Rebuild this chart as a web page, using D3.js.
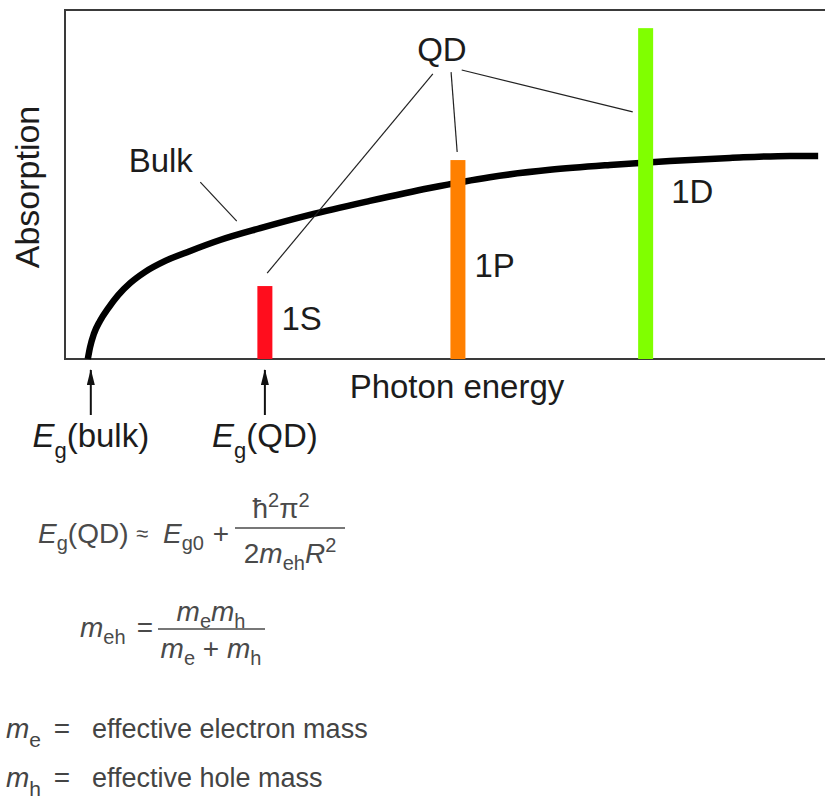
<!DOCTYPE html>
<html>
<head>
<meta charset="utf-8">
<script src="https://cdn.jsdelivr.net/npm/d3@7"></script>
<style>
  body { margin: 0; background: #fff; }
  svg { display: block; }
  text { font-family: "Liberation Sans", Arial, sans-serif; }
</style>
</head>
<body>
<svg id="chart" width="825" height="800"></svg>
<script>
// bulk absorption curve (arbitrary units)
let bulkEnergy = [0.30, 0.33, 0.38, 0.46, 0.57, 0.70, 0.86, 1.05, 1.32, 1.64, 2.04, 2.57, 3.22, 4.01, 4.80, 5.59, 6.38, 7.17, 7.96, 8.75, 9.54, 9.91];
let bulkAbs    = [0.00, 0.34, 0.72, 1.09, 1.46, 1.83, 2.18, 2.49, 2.81, 3.09, 3.41, 3.75, 4.13, 4.53, 4.90, 5.21, 5.42, 5.56, 5.67, 5.76, 5.82, 5.82];

// quantum dot transitions
let qdLabels = ['1S', '1P', '1D'];
let qdEnergy = [2.63, 5.17, 7.64];
let qdAbs    = [2.09, 5.70, 9.48];
let qdColors = ['#ff0d1d', '#ff8000', '#80ff00'];

let svg = d3.select('#chart');
let ink = '#1c1c1c';

// plot frame: 65..825 wide, 10..359 high
let x = d3.scaleLinear().domain([0, 10]).range([65, 825]);
let y = d3.scaleLinear().domain([0, 10]).range([359, 10]);

svg.append('rect')
  .attr('x', x(0)).attr('y', y(10))
  .attr('width', x(10) - x(0) + 10).attr('height', y(0) - y(10))
  .attr('fill', 'none')
  .attr('stroke', '#3a3a3a')
  .attr('stroke-width', 2);

// bulk curve
let line = d3.line()
  .x(i => x(bulkEnergy[i]))
  .y(i => y(bulkAbs[i]))
  .curve(d3.curveMonotoneX);

svg.append('path')
  .attr('d', line(d3.range(bulkEnergy.length)))
  .attr('fill', 'none')
  .attr('stroke', '#000')
  .attr('stroke-width', 6.5);

// QD bars
let barW = 15;
svg.selectAll('.bar')
  .data(qdLabels)
  .enter().append('rect')
  .attr('class', 'bar')
  .attr('x', (d, i) => x(qdEnergy[i]) - barW / 2)
  .attr('y', (d, i) => y(qdAbs[i]))
  .attr('width', barW)
  .attr('height', (d, i) => y(0) - y(qdAbs[i]))
  .attr('fill', (d, i) => qdColors[i]);

// bar labels (offset right of bar, height in data units)
let labelDx = [9, 9, 18];
let labelY = [0.83, 2.35, 4.47];
svg.selectAll('.blabel')
  .data(qdLabels)
  .enter().append('text')
  .attr('class', 'blabel')
  .attr('x', (d, i) => x(qdEnergy[i]) + barW / 2 + labelDx[i])
  .attr('y', (d, i) => y(labelY[i]))
  .attr('font-size', 33)
  .attr('fill', ink)
  .text(d => d);

// QD / Bulk callouts
svg.append('text')
  .attr('x', x(4.96)).attr('y', y(8.54))
  .attr('text-anchor', 'middle')
  .attr('font-size', 33).attr('fill', ink)
  .text('QD');

let leaders = [
  [[4.84, 8.17], [2.66, 2.46]],
  [[5.08, 8.22], [5.16, 5.93]],
  [[5.22, 8.28], [7.47, 7.08]],
  [[1.78, 5.07], [2.26, 3.95]]
];
svg.selectAll('.leader')
  .data(leaders)
  .enter().append('line')
  .attr('class', 'leader')
  .attr('x1', d => x(d[0][0])).attr('y1', d => y(d[0][1]))
  .attr('x2', d => x(d[1][0])).attr('y2', d => y(d[1][1]))
  .attr('stroke', '#222')
  .attr('stroke-width', 1.2);

svg.append('text')
  .attr('x', x(1.26)).attr('y', y(5.36))
  .attr('text-anchor', 'middle')
  .attr('font-size', 33).attr('fill', ink)
  .text('Bulk');

// axis titles
svg.append('text')
  .attr('transform', 'translate(39,187) rotate(-90)')
  .attr('text-anchor', 'middle')
  .attr('font-size', 34).attr('fill', ink)
  .text('Absorption');

svg.append('text')
  .attr('x', 457).attr('y', 398)
  .attr('text-anchor', 'middle')
  .attr('font-size', 33).attr('fill', ink)
  .text('Photon energy');

// band gap arrows
svg.append('defs').append('marker')
  .attr('id', 'head')
  .attr('viewBox', '0 0 16 8')
  .attr('refX', 15).attr('refY', 4)
  .attr('markerWidth', 16).attr('markerHeight', 8)
  .attr('markerUnits', 'userSpaceOnUse')
  .attr('orient', 'auto')
  .append('path')
  .attr('d', 'M0,0 L16,4 L0,8 Z')
  .attr('fill', '#111');

// rich text helper: parts are [string, kind] with kind '', 'i', 'sub', 'sup'
function rich(t, parts, base, small, drop, rise) {
  let off = 0;
  parts.forEach(p => {
    let s = p[0], k = p[1] || '';
    let target = k.includes('sub') ? drop : (k.includes('sup') ? -rise : 0);
    let ts = t.append('tspan').text(s);
    if (target !== off) { ts.attr('dy', target - off); off = target; }
    if (k.includes('sub') || k.includes('sup')) ts.attr('font-size', small);
    if (k.includes('i')) ts.attr('font-style', 'italic');
  });
  return t;
}

let gaps = [
  { at: x(bulkEnergy[0]) + 3, name: '(bulk)' },
  { at: x(qdEnergy[0]), name: '(QD)' }
];
gaps.forEach(g => {
  svg.append('line')
    .attr('x1', g.at).attr('y1', 415)
    .attr('x2', g.at).attr('y2', 370)
    .attr('stroke', '#111').attr('stroke-width', 2)
    .attr('marker-end', 'url(#head)');

  let t = svg.append('text')
    .attr('x', g.at).attr('y', 447)
    .attr('text-anchor', 'middle')
    .attr('font-size', 33).attr('fill', ink);
  rich(t, [['E', 'i'], ['g', 'sub'], [g.name, '']], 33, 22, 11, 0);
});

// formulas
let fcol = '#4a4a4a';
let fs = 28, sm = 20;

function piece(px, py, parts, anchor) {
  let t = svg.append('text')
    .attr('x', px).attr('y', py)
    .attr('text-anchor', anchor || 'start')
    .attr('font-size', fs).attr('fill', fcol);
  return rich(t, parts, fs, sm, 7, 11);
}

// E_g(QD) ≈ E_g0 + ħ²π² / 2 m_eh R²
piece(38, 543, [['E', 'i'], ['g', 'sub'], ['(QD)', '']]);
piece(142, 541, [['\u2248', '']], 'middle').attr('font-size', 22);
piece(163, 543, [['E', 'i'], ['g0', 'sub']]);
piece(221, 543, [['+', '']], 'middle');
piece(281, 518, [['\u0127', ''], ['2', 'sup'], ['\u03c0', ''], ['2', 'sup']], 'middle');
svg.append('line')
  .attr('x1', 235).attr('x2', 345).attr('y1', 528).attr('y2', 528)
  .attr('stroke', fcol).attr('stroke-width', 1.6);
piece(290, 563, [['2', ''], ['m', 'i'], ['eh', 'sub'], ['R', 'i'], ['2', 'sup']], 'middle');

// m_eh = m_e m_h / (m_e + m_h)
piece(80, 637, [['m', 'i'], ['eh', 'sub']]);
piece(145, 637, [['=', '']], 'middle');
piece(211, 621, [['m', 'i'], ['e', 'sub'], ['m', 'i'], ['h', 'sub']], 'middle');
svg.append('line')
  .attr('x1', 158).attr('x2', 265).attr('y1', 629).attr('y2', 629)
  .attr('stroke', fcol).attr('stroke-width', 1.6);
piece(211, 658, [['m', 'i'], ['e', 'sub'], [' + ', ''], ['m', 'i'], ['h', 'sub']], 'middle');

// definitions
let defs = [
  { s: 'e', txt: 'effective electron mass', y: 738 },
  { s: 'h', txt: 'effective hole mass', y: 787 }
];
defs.forEach(d => {
  let t = svg.append('text')
    .attr('x', 6).attr('y', d.y)
    .attr('font-size', 28).attr('fill', '#444');
  rich(t, [['m', 'i'], [d.s, 'sub']], 28, 21, 9, 0);
  svg.append('text')
    .attr('x', 62).attr('y', d.y)
    .attr('text-anchor', 'middle')
    .attr('font-size', 28).attr('fill', '#444')
    .text('=');
  svg.append('text')
    .attr('x', 92).attr('y', d.y)
    .attr('font-size', 27).attr('fill', '#444')
    .text(d.txt);
});
</script>
</body>
</html>
